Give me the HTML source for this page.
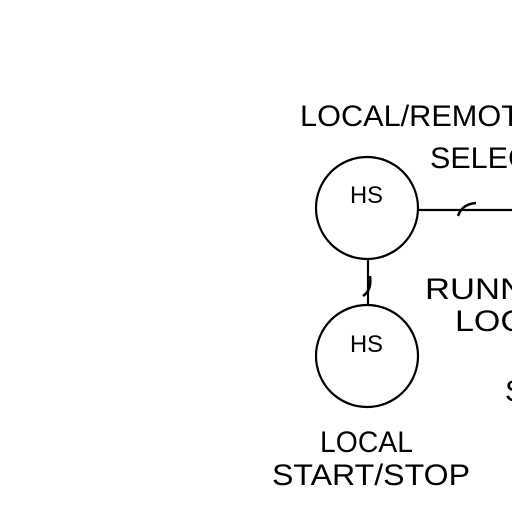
<!DOCTYPE html>
<html><head><style>
html,body{margin:0;padding:0;background:#fff;}
svg{display:block;}
text{font-family:"Liberation Sans",sans-serif;fill:#000;}
</style></head><body>
<svg width="512" height="512" viewBox="0 0 512 512" xmlns="http://www.w3.org/2000/svg">
<rect width="512" height="512" fill="#fff"/>
<g fill="none" stroke="#000" stroke-width="2.2">
<circle cx="367" cy="208" r="51"/>
<circle cx="367" cy="356" r="51"/>
<line x1="418" y1="210" x2="512" y2="210"/>
<line x1="368" y1="259" x2="368" y2="305"/>
<path d="M458 216 Q462 204 476 203" stroke-width="2.5"/>
<path d="M363 296 Q372 290 370 276" stroke-width="2.5"/>
</g>
<g font-size="30">
<text x="300" y="126" textLength="220" lengthAdjust="spacingAndGlyphs">LOCAL/REMOT</text>
<text x="430" y="168" textLength="100" lengthAdjust="spacingAndGlyphs">SELEC</text>
<text x="425" y="299" textLength="100" lengthAdjust="spacingAndGlyphs">RUNN</text>
<text x="455" y="331" textLength="70" lengthAdjust="spacingAndGlyphs">LOC</text>
<text x="505" y="401">S</text>
<text x="320" y="452" textLength="93" lengthAdjust="spacingAndGlyphs">LOCAL</text>
<text x="272" y="485" textLength="198" lengthAdjust="spacingAndGlyphs">START/STOP</text>
</g>
<g font-size="24">
<text x="350" y="203" textLength="33" lengthAdjust="spacingAndGlyphs">HS</text>
<text x="350" y="352" textLength="33" lengthAdjust="spacingAndGlyphs">HS</text>
</g>
</svg>
</body></html>
